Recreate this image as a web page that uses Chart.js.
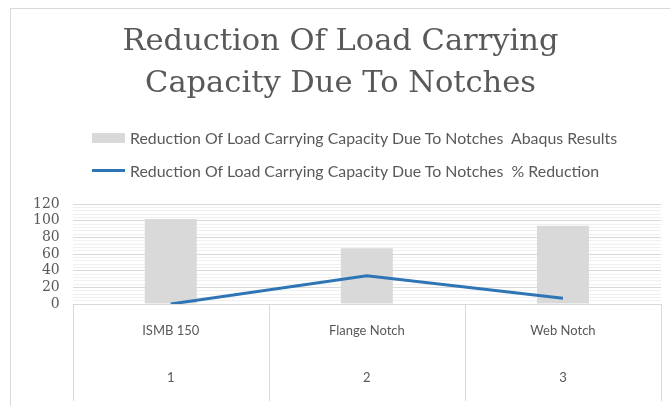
<!DOCTYPE html>
<html>
<head>
<meta charset="utf-8">
<script src="https://cdn.jsdelivr.net/npm/chart.js@4/dist/chart.umd.min.js"></script>
<style>
  body { margin: 0; background: #fff; }
  #wrap { position: relative; width: 670px; height: 406px; overflow: hidden; }
  #frame { position: absolute; left: 10px; top: 8px; width: 700px; height: 500px;
           border-left: 1px solid #d9d9d9; border-top: 1px solid #d9d9d9; }
  #legend { position: absolute; left: 92px; top: 121px; font-family: Lato, sans-serif;
            font-size: 15.9px; color: #595959; }
  .row { height: 33px; display: flex; align-items: center; white-space: pre; }
  .sw { width: 33px; margin-right: 5px; }
</style>
</head>
<body>
<div id="wrap">
  <div id="frame"></div>
  <canvas id="reductionChart" width="670" height="406"></canvas>
  <div id="legend"></div>
</div>
<script>
const sections = ['ISMB 150', 'Flange Notch', 'Web Notch'];
const sampleNo = ['1', '2', '3'];
const abaqusResults = [102, 67, 94];
const pctReduction = [0, 34, 7];
const seriesName = 'Reduction Of Load Carrying Capacity Due To Notches';

const labels = sections.map((s, i) => [s, sampleNo[i]]);

// vertical separators under the plot, like the two-level category axis
const separators = {
  id: 'separators',
  afterDraw(chart) {
    const x = chart.scales.x;
    const ctx = chart.ctx;
    const n = x.ticks.length;
    const step = (x.right - x.left) / n;
    ctx.save();
    ctx.strokeStyle = '#d9d9d9';
    ctx.lineWidth = 1;
    for (let i = 0; i <= n; i++) {
      const px = Math.round(x.left + i * step) + 0.5;
      ctx.beginPath();
      ctx.moveTo(px, x.top);
      ctx.lineTo(px, x.top + 97);
      ctx.stroke();
    }
    ctx.restore();
  }
};

const data = {
  labels: labels,
  datasets: [{
    type: 'line',
    label: seriesName + '  % Reduction',
    data: pctReduction,
    borderColor: '#2e75b6',
    backgroundColor: '#2e75b6',
    borderWidth: 3,
    pointRadius: 0,
    tension: 0,
    order: 0
  }, {
    type: 'bar',
    label: seriesName + '  Abaqus Results',
    data: abaqusResults,
    backgroundColor: '#d9d9d9',
    categoryPercentage: 1,
    barPercentage: 0.265,
    order: 1
  }]
};

const config = {
  data: data,
  options: {
    responsive: false,
    animation: false,
    layout: { padding: { left: 20, right: 9, top: 0, bottom: 9 } },
    plugins: {
      legend: { display: false },
      tooltip: { enabled: false },
      title: {
        display: true,
        text: ['Reduction Of Load Carrying', 'Capacity Due To Notches'],
        color: '#595959',
        font: { family: 'DejaVu Serif', size: 30.5, weight: 'normal', lineHeight: 42 / 30.5 },
        padding: { top: 21, bottom: 99 }
      }
    },
    scales: {
      x: {
        grid: { display: false },
        border: { display: false },
        ticks: {
          color: '#595959',
          padding: -4.5,
          font: { family: 'Lato', size: 13, lineHeight: 47 / 13 }
        }
      },
      y: {
        min: 0,
        max: 120,
        border: { display: false },
        grid: {
          drawTicks: false,
          color: ctx => (ctx.tick && ctx.tick.value % 20 === 0) ? '#d9d9d9' : '#f0f0f0'
        },
        ticks: {
          stepSize: 4,
          autoSkip: false,
          padding: 13,
          color: '#595959',
          font: { family: 'DejaVu Serif', size: 14 },
          callback: v => (v % 20 === 0 ? v : '')
        }
      }
    }
  },
  plugins: [separators]
};

const myChart = new Chart(document.getElementById('reductionChart'), config);

// legend rows, left aligned, built from the datasets (bar first)
const legendBox = document.getElementById('legend');
[1, 0].forEach(i => {
  const ds = myChart.data.datasets[i];
  const row = document.createElement('div');
  row.className = 'row';
  const sw = document.createElement('span');
  sw.className = 'sw';
  if (ds.type === 'bar') {
    sw.style.height = '10px';
    sw.style.background = ds.backgroundColor;
  } else {
    sw.style.height = '3px';
    sw.style.background = ds.borderColor;
  }
  const txt = document.createElement('span');
  txt.textContent = ds.label;
  row.appendChild(sw);
  row.appendChild(txt);
  legendBox.appendChild(row);
});
</script>
</body>
</html>
